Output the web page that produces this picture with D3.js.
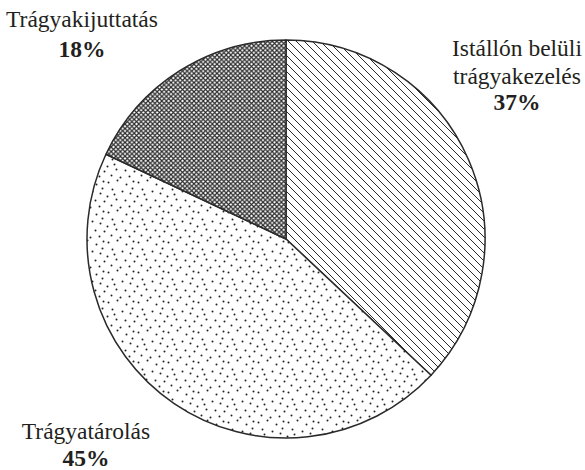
<!DOCTYPE html>
<html>
<head>
<meta charset="utf-8">
<script src="https://cdn.jsdelivr.net/npm/d3@7/dist/d3.min.js"></script>
<style>
  body { margin: 0; background: #fff; }
  svg text { font-family: "Liberation Serif", "Times New Roman", serif; fill: #231f20; }
</style>
</head>
<body>
<svg id="chart" width="585" height="470"></svg>
<script>
// data
var categories = ["Istállón belüli trágyakezelés", "Trágyatárolás", "Trágyakijuttatás"];
var values = [37, 45, 18];
var percentLabels = ["37%", "45%", "18%"];

(function() {
  var svg = d3.select("svg#chart");
  var cx = 286, cy = 239, r = 199;

  var defs = svg.append("defs");

  // diagonal hatching for the first slice
  var hatch = defs.append("pattern")
    .attr("id", "hatch")
    .attr("patternUnits", "userSpaceOnUse")
    .attr("width", 8).attr("height", 8);
  hatch.append("rect").attr("width", 8).attr("height", 8).attr("fill", "#fff");
  hatch.append("path")
    .attr("d", "M-2,-2L10,10M-2,6L2,10M6,-2L10,2")
    .attr("stroke", "#2a2a2a").attr("stroke-width", 1);

  // stipple dots for the second slice (hand placed within the tile)
  var dotTile = [[2,3],[11,1],[20,5],[27,2],[6,10],[16,12],[24,14],[1,17],
                 [10,20],[19,21],[28,22],[5,26],[14,28],[23,27],[8,15],[26,9]];
  var dots = defs.append("pattern")
    .attr("id", "dots")
    .attr("patternUnits", "userSpaceOnUse")
    .attr("width", 30).attr("height", 30);
  dots.append("rect").attr("width", 30).attr("height", 30).attr("fill", "#fff");
  dots.selectAll("circle")
    .data(dotTile)
    .enter().append("circle")
    .attr("cx", function(d) { return d[0] + 0.5; })
    .attr("cy", function(d) { return d[1] + 0.5; })
    .attr("r", 1)
    .attr("fill", "#222");

  // crosshatch for the third slice
  var cross = defs.append("pattern")
    .attr("id", "cross")
    .attr("patternUnits", "userSpaceOnUse")
    .attr("width", 4.6).attr("height", 4.6);
  cross.append("rect").attr("width", 4.6).attr("height", 4.6).attr("fill", "#fff");
  cross.append("path")
    .attr("d", "M0,0L4.6,4.6M4.6,0L0,4.6")
    .attr("stroke", "#2a2a2a").attr("stroke-width", 1.2);

  var fills = ["url(#hatch)", "url(#dots)", "url(#cross)"];

  var pie = d3.pie().sort(null).value(function(d) { return d; });
  var arc = d3.arc().innerRadius(0).outerRadius(r);

  var g = svg.append("g").attr("transform", "translate(" + cx + "," + cy + ")");

  g.selectAll(".slice")
    .data(pie(values))
    .enter().append("path")
    .attr("class", "slice")
    .attr("d", arc)
    .attr("fill", function(d, i) { return fills[i]; })
    .attr("stroke", "#2a2a2a")
    .attr("stroke-width", 1.5)
    .attr("stroke-linejoin", "round");

  // label layout: name lines and percent, anchored at centre x
  var labelPos = [
    { x: 517, y: 56, lines: ["Istállón belüli", "trágyakezelés"] },
    { x: 86, y: 439, lines: ["Trágyatárolás"] },
    { x: 82, y: 27, lines: ["Trágyakijuttatás"] }
  ];
  var lineH = 27.5;

  labelPos.forEach(function(p, i) {
    var t = svg.append("text")
      .attr("text-anchor", "middle")
      .attr("font-size", 23.5);
    p.lines.forEach(function(l, j) {
      t.append("tspan").attr("x", p.x).attr("y", p.y + j * lineH).text(l);
    });
    svg.append("text")
      .attr("x", p.x)
      .attr("y", p.y + p.lines.length * lineH + (i == 2 ? 2 : -1))
      .attr("text-anchor", "middle")
      .attr("font-size", 23.5)
      .attr("font-weight", "bold")
      .text(percentLabels[i]);
  });
})();
</script>
</body>
</html>
